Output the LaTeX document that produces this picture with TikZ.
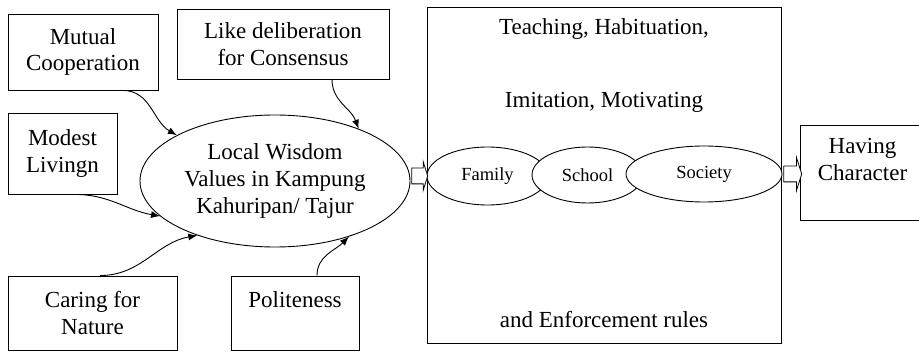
\documentclass[tikz,border=0pt]{standalone}
\usepackage{fontspec}
\setmainfont{Liberation Serif}
\usetikzlibrary{shapes.geometric, shapes.arrows, arrows.meta}
\tikzset{>={Latex[length=9pt,width=7pt]},
  factor/.style={draw, line width=0.9pt, align=center, inner sep=0pt, font=\fontsize{23}{26.5}\selectfont},
  label/.style={inner sep=0pt, font=\fontsize{23}{26.5}\selectfont},
  cloud/.style={ellipse, draw, line width=0.9pt, fill=white, inner sep=0pt, font=\fontsize{18.5}{21}\selectfont},
  wave/.style={->, line width=0.9pt},
  block/.style={single arrow, draw, fill=white, line width=0.8pt, inner xsep=0pt, inner ysep=7.5pt, single arrow head extend=6.5pt}}
\begin{document}
\begin{tikzpicture}[x=1pt, y=1pt]
    \useasboundingbox (0,0) rectangle (919,351);
    \node [factor, minimum width=150, minimum height=76] (mutual) at (83,299) {Mutual\\Cooperation};
    \node [factor, minimum width=212, minimum height=70] (deliberation) at (283,307) {Like deliberation\\for Consensus};
    \node [factor, minimum width=109, minimum height=81] (modest) at (62.5,197.5) {Modest\\Livingn};
    \node [factor, minimum width=169, minimum height=74] (caring) at (92.5,38) {Caring for\\Nature};
    \node [factor, minimum width=128, minimum height=74] (politeness) at (295,38) {Politeness\\\mbox{}};
    \node [cloud, minimum width=270, minimum height=132, align=center, font=\fontsize{23}{27}\selectfont] (lw) at (275,170) {Local Wisdom\\Values in Kampung\\Kahuripan/ Tajur};
    \node [factor, minimum width=354, minimum height=336] (frame) at (604,176) {};
    \node [label] (teaching) at (604,322) {Teaching, Habituation,};
    \node [label] (imitation) at (604,249) {Imitation, Motivating};
    \node [label] (enforcement) at (604,31) {and Enforcement rules};
    \node [cloud, minimum width=121, minimum height=58] (family) at (487.5,175) {Family};
    \node [cloud, minimum width=111, minimum height=56] (school) at (587.5,176) {School};
    \node [cloud, minimum width=156, minimum height=56] (society) at (704,177) {Society};
    \node [factor, minimum width=125, minimum height=95] (having) at (862.5,178.5) {Having\\Character\\\mbox{}};
    \draw [wave] ([xshift=40pt]mutual.south) to[out=0, in=150] (lw.155);
    \draw [wave] ([xshift=49pt]deliberation.south) to[out=-90, in=110] (lw.32);
    \draw [wave] ([xshift=12.5pt]modest.south) to[out=0, in=170] (lw.197);
    \draw [wave] ([xshift=7.5pt]caring.north) to[out=0, in=190] (lw.215);
    \draw [wave] ([xshift=22pt]politeness.north) to[out=90, in=225] (lw.323);
    \node [block, minimum height=16, single arrow tip angle=145] (into) at ([xshift=8pt]lw.east |- family.center) {};
    \node [block, minimum height=18, single arrow head extend=8.5pt, single arrow tip angle=145] (outof) at ([xshift=9pt]society.east) {};
\end{tikzpicture}
\end{document}
